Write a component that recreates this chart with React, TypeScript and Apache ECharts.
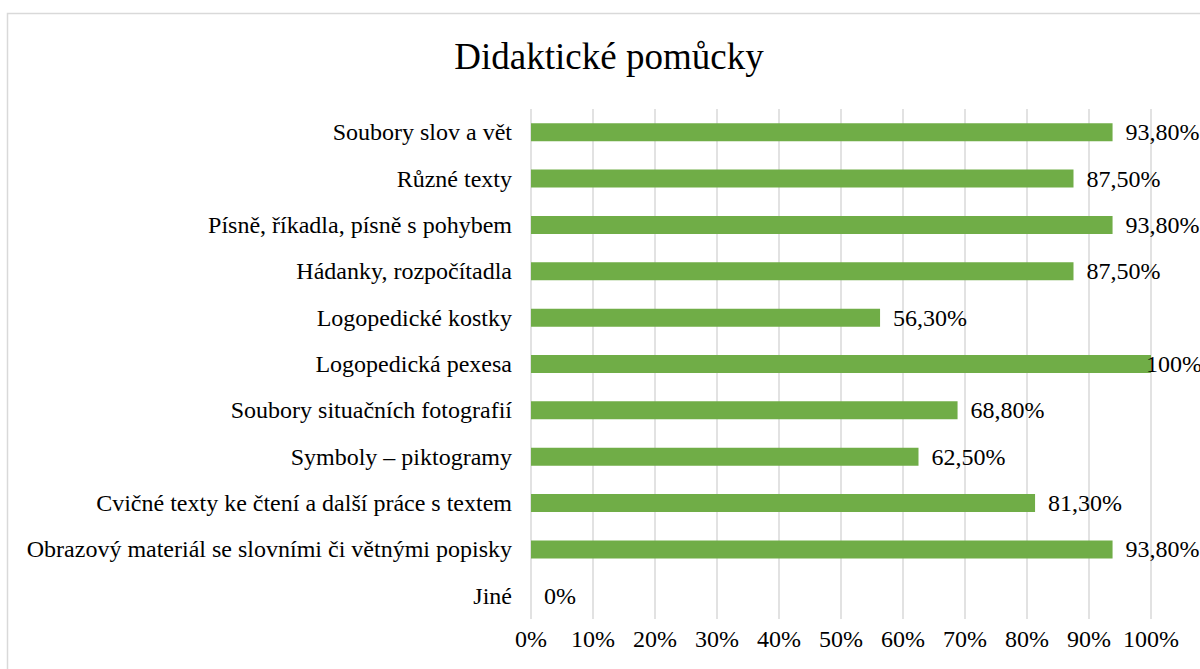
import React, { useEffect, useRef } from "react";
import * as echarts from "echarts";

const categories = [
  "Soubory slov a vět",
  "Různé texty",
  "Písně, říkadla, písně s pohybem",
  "Hádanky, rozpočítadla",
  "Logopedické kostky",
  "Logopedická pexesa",
  "Soubory situačních fotografií",
  "Symboly – piktogramy",
  "Cvičné texty ke čtení a další práce s textem",
  "Obrazový materiál se slovními či větnými popisky",
  "Jiné",
];
const values = [93.8, 87.5, 93.8, 87.5, 56.3, 100, 68.8, 62.5, 81.3, 93.8, 0];
const titleText = "Didaktické pomůcky";

const FONT = '"Liberation Serif"';
const FS = 24;

function fmt(v: number): string {
  if (Number.isInteger(v)) return v + "%";
  return v.toFixed(2).replace(".", ",") + "%";
}

const txt = { fontFamily: FONT, fontSize: FS, fontWeight: "normal" as const, fontStyle: "normal" as const, color: "#000000" };

export default function App() {
  const ref = useRef<HTMLDivElement>(null);
  useEffect(() => {
    if (!ref.current) return;
    const chart = echarts.init(ref.current, undefined, { renderer: "svg" });
    chart.setOption({
      animation: false,
      backgroundColor: "#ffffff",
      textStyle: { fontFamily: FONT, fontWeight: "normal" },
      title: {
        text: titleText,
        left: 604,
        top: 33,
        textAlign: "center",
        textStyle: { fontFamily: FONT, fontSize: 37, fontWeight: "normal", color: "#000000" },
      },
      graphic: [
        {
          type: "rect",
          shape: { x: 7.5, y: 13.5, width: 1300, height: 800 },
          style: { fill: "none", stroke: "#d9d9d9", lineWidth: 1.5 },
          silent: true,
        },
      ],
      grid: { left: 531, right: 49, top: 109, bottom: 50 },
      xAxis: {
        type: "value",
        min: 0,
        max: 100,
        interval: 10,
        axisLine: { show: false },
        axisTick: { show: false },
        splitLine: { show: true, lineStyle: { color: "#d9d9d9", width: 1.5 } },
        axisLabel: {
          ...txt,
          formatter: (v: number) => v + "%",
          margin: 8,
        },
      },
      yAxis: {
        type: "category",
        data: categories,
        inverse: true,
        axisLine: { show: false },
        axisTick: { show: false },
        axisLabel: { ...txt, margin: 19 },
      },
      series: [
        {
          type: "bar",
          data: values.map((v) =>
            v >= 100 ? { value: v, label: { offset: [-18, 0] } } : v
          ),
          barWidth: 18,
          itemStyle: { color: "#70ad47" },
          label: {
            ...txt,
            show: true,
            position: "right",
            distance: 13,
            formatter: (p: any) => fmt(p.value),
          },
        },
      ],
    });
    return () => chart.dispose();
  }, []);
  return (
    <div style={{ position: "fixed", left: 0, top: 0, width: 1200, height: 669 }}>
      <div ref={ref} style={{ width: 1200, height: 669 }} />
    </div>
  );
}
